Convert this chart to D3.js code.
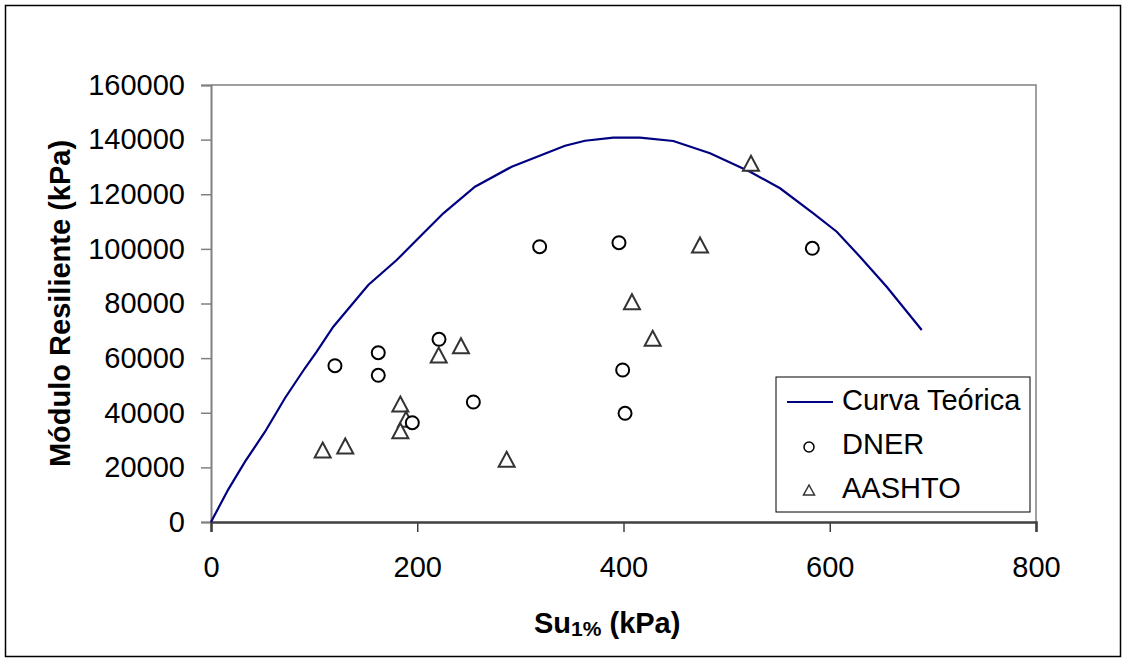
<!DOCTYPE html>
<html>
<head>
<meta charset="utf-8">
<script src="https://cdn.jsdelivr.net/npm/d3@7"></script>
<style>
  body { margin: 0; background: #fff; }
  svg text { font-family: Arial, "Liberation Sans", sans-serif; fill: #000; }
</style>
</head>
<body>
<svg id="chart" width="1128" height="664"></svg>
<script>
// Curva Teórica (vertices)
const curveX = [0, 16.8, 33, 52.4, 71.8, 91.2, 102.5, 118.6, 152.5, 180.1, 205.9, 225.3, 256, 291.6,
  343.3, 362.7, 390.1, 416, 448.3, 483.9, 522.7, 551.8, 584.1, 606.8, 629.3, 655.2, 689.2];
const curveY = [0, 11970, 22080, 33060, 45400, 56380, 62350, 71500, 86770, 95920, 105700, 113020,
  122760, 130090, 137770, 139600, 140700, 140700, 139500, 135000, 128260, 122180, 113020, 106290,
  97130, 86150, 70300];

// DNER
const dnerX = [318.7, 395.6, 120.2, 162.2, 162.2, 221.1, 254.4, 195.2, 399.2, 401.5, 583.1];
const dnerY = [100800, 102260, 57230, 61990, 53710, 66890, 43940, 36360, 55650, 39800, 100210];

// AASHTO
const aashtoX = [408.2, 428.3, 242.4, 220.8, 183.6, 189.1, 183.6, 108.3, 130.2, 286.7, 523.6, 474.2];
const aashtoY = [80660, 67260, 64550, 61140, 43200, 37600, 33430, 26360, 27830, 22960, 131330, 101420];

const xTicks = [0, 200, 400, 600, 800];
const yTicks = [0, 20000, 40000, 60000, 80000, 100000, 120000, 140000, 160000];
const legendItems = ['Curva Teórica', 'DNER', 'AASHTO'];

const pLeft = 211, pRight = 1036, pTop = 85, pBottom = 522;
const svg = d3.select('#chart');

const x = d3.scaleLinear().domain([0, 800]).range([pLeft, pRight]);
const y = d3.scaleLinear().domain([0, 160000]).range([pBottom, pTop]);

// chart area border
svg.append('rect')
  .attr('x', 5.5).attr('y', 5.5).attr('width', 1115).attr('height', 651)
  .attr('fill', '#fff').attr('stroke', '#000').attr('stroke-width', 1.5);

// plot area border (top/right)
svg.append('path')
  .attr('d', `M${pLeft},${pTop}H${pRight}V${pBottom}`)
  .attr('fill', 'none').attr('stroke', '#808080').attr('stroke-width', 1.5);

// y axis
const yAxis = svg.append('g')
  .attr('transform', `translate(${pLeft},0)`)
  .call(d3.axisLeft(y).tickValues(yTicks).tickSize(10).tickPadding(16).tickFormat(d3.format('d')));
yAxis.select('.domain').attr('stroke', '#808080').attr('stroke-width', 2);
yAxis.selectAll('.tick line').attr('stroke', '#808080').attr('stroke-width', 1.5);
yAxis.selectAll('.tick text').style('font-size', '29px').attr('fill', '#000');

// x axis
const xAxis = svg.append('g')
  .attr('transform', `translate(0,${pBottom})`)
  .call(d3.axisBottom(x).tickValues(xTicks).tickSize(10).tickPadding(24));
xAxis.select('.domain').attr('stroke', '#404040').attr('stroke-width', 2.5);
xAxis.selectAll('.tick line').attr('stroke', '#404040').attr('stroke-width', 1.5);
xAxis.selectAll('.tick text').style('font-size', '29px').attr('fill', '#000');

// axis titles
svg.append('text')
  .attr('transform', `translate(70,${(pTop + pBottom) / 2}) rotate(-90)`)
  .attr('text-anchor', 'middle')
  .style('font-size', '29px').style('font-weight', 'bold')
  .text('Módulo Resiliente (kPa)');

const xt = svg.append('text')
  .attr('x', 534).attr('y', 633)
  .style('font-size', '29px').style('font-weight', 'bold');
xt.append('tspan').text('Su');
xt.append('tspan').attr('dy', 3).style('font-size', '21px').text('1%');
xt.append('tspan').attr('dy', -3).text(' (kPa)');

// curve
const line = d3.line().x(d => x(d[0])).y(d => y(d[1]));
svg.append('path')
  .datum(d3.zip(curveX, curveY))
  .attr('d', line)
  .attr('fill', 'none').attr('stroke', '#000080').attr('stroke-width', 2.2);

// triangle marker centred on its bounding box
function tri(w, h) {
  return `M0,${-h / 2}L${w / 2},${h / 2}L${-w / 2},${h / 2}Z`;
}

svg.append('g').selectAll('path')
  .data(d3.zip(aashtoX, aashtoY))
  .join('path')
  .attr('transform', d => `translate(${x(d[0])},${y(d[1])})`)
  .attr('d', tri(16, 15))
  .attr('fill', '#fff').attr('stroke', '#333').attr('stroke-width', 2);

svg.append('g').selectAll('circle')
  .data(d3.zip(dnerX, dnerY))
  .join('circle')
  .attr('cx', d => x(d[0])).attr('cy', d => y(d[1])).attr('r', 6.5)
  .attr('fill', '#fff').attr('stroke', '#000').attr('stroke-width', 2);

// legend
const lg = svg.append('g');
lg.append('rect')
  .attr('x', 776).attr('y', 377).attr('width', 254).attr('height', 135)
  .attr('fill', '#fff').attr('stroke', '#000').attr('stroke-width', 1);
lg.append('line')
  .attr('x1', 787).attr('x2', 833).attr('y1', 402).attr('y2', 402)
  .attr('stroke', '#000080').attr('stroke-width', 2);
lg.append('circle')
  .attr('cx', 809).attr('cy', 447).attr('r', 5)
  .attr('fill', '#fff').attr('stroke', '#000').attr('stroke-width', 1.5);
lg.append('path')
  .attr('transform', 'translate(809,490)')
  .attr('d', tri(11, 10))
  .attr('fill', '#fff').attr('stroke', '#333').attr('stroke-width', 1.5);
lg.selectAll('text')
  .data(legendItems)
  .join('text')
  .attr('x', 842)
  .attr('y', (d, i) => 410 + i * 44)
  .style('font-size', '29px')
  .text(d => d);
</script>
</body>
</html>
